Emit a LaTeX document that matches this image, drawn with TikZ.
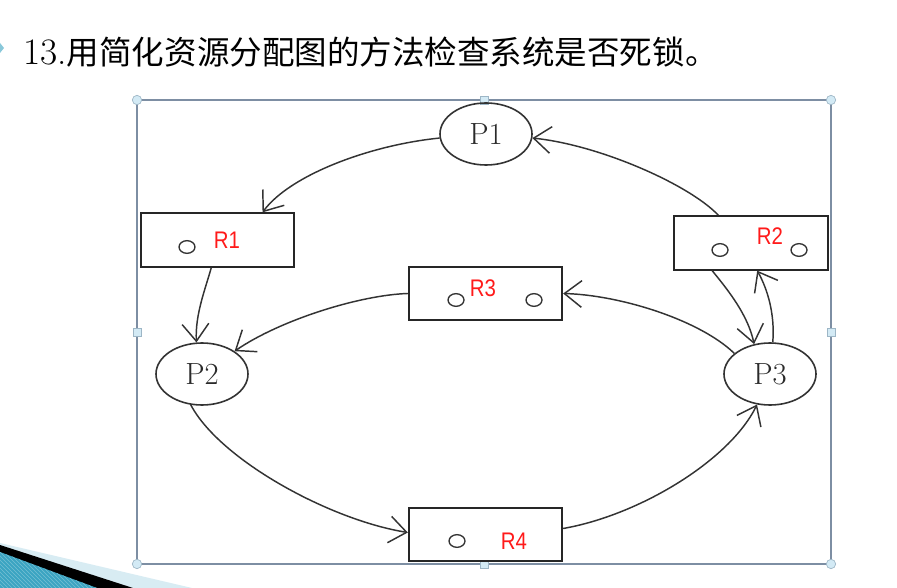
\documentclass[tikz,border=0pt]{standalone}
\usepackage{fontspec}
\newfontfamily\cjk{Noto Sans CJK SC}
\newfontfamily\labelfont{Liberation Sans}
\usetikzlibrary{shapes.geometric,arrows.meta,calc,patterns}

\definecolor{linecol}{HTML}{333333}
\definecolor{boxcol}{HTML}{262626}
\definecolor{textcol}{HTML}{2A2A2A}
\definecolor{framecol}{HTML}{7D8EA3}
\definecolor{handlefill}{HTML}{D3EAF5}
\definecolor{handledraw}{HTML}{9DB6C6}
\definecolor{bandlight}{HTML}{D8ECF3}
\definecolor{bandteal}{HTML}{3BA4C2}
\definecolor{labelred}{HTML}{FF1A1A}

\tikzset{
  proc/.style={ellipse, draw=linecol, line width=1.2pt, minimum width=69pt,
    minimum height=46.5pt, inner sep=0pt, text=textcol,
    font=\fontsize{23}{23}\selectfont},
  res/.style={rectangle, draw=boxcol, line width=1.5pt, minimum width=115pt,
    minimum height=40pt, inner sep=0pt},
  unit/.style={ellipse, draw=linecol, line width=1pt, minimum width=12pt,
    minimum height=9.5pt, inner sep=0pt},
  rlabel/.style={text=labelred, inner sep=0pt, xscale=0.85,
    font=\labelfont\fontsize{18}{18}\selectfont},
  flow/.style={draw=linecol, line width=1.1pt,
    -{Straight Barb[length=13pt,width=20pt,line width=1.1pt]}},
  cornerhandle/.style={circle, fill=handlefill, draw=handledraw, line width=0.5pt,
    minimum size=7pt, inner sep=0pt},
  sidehandle/.style={rectangle, fill=handlefill, draw=handledraw, line width=0.5pt,
    minimum size=6pt, inner sep=0pt},
}

\begin{document}
\begin{tikzpicture}[x=0.75pt,y=-0.75pt]
\useasboundingbox (0,0) rectangle (897,588);
\fill[white] (0,0) rectangle (897,588);

% slide decoration, lower left
\fill[bandlight] (0,543) -- (192,588) -- (0,588) -- cycle;
\fill[black] (0,545) -- (133,588) -- (0,588) -- cycle;
\fill[bandteal] (0,552) -- (97,588) -- (0,588) -- cycle;
\fill[pattern=north west lines, pattern color=bandteal!70!white] (0,552) -- (97,588) -- (0,588) -- cycle;

% bullet
\fill[bandteal!60!white] (0,43) -- (4,48) -- (0,53) -- cycle;

% title
\node[anchor=west, inner sep=0pt, font=\fontsize{24.4}{26}\selectfont] (title) at (23,52)
  {{\fontsize{28}{28}\selectfont 13.}{\cjk 用简化资源分配图的方法检查系统是否死锁。}};

% picture frame with selection handles
\draw[framecol, line width=1.1pt] (137,100) rectangle (831,564);
\foreach \px/\py [count=\i] in {137/100, 831/100, 137/564, 831/564}
  \node[cornerhandle] (corner\i) at (\px,\py) {};
\foreach \px/\py [count=\i] in {484/100, 484/564, 137/332, 831/332}
  \node[sidehandle] (side\i) at (\px,\py) {};

% processes
\node[proc] (P1) at (486,134) {P1};
\node[proc] (P2) at (202,374) {P2};
\node[proc] (P3) at (770,374) {P3};

% resources
\node[res] (R1) at (217.5,240) {};
\node[res] (R2) at (751,243) {};
\node[res] (R3) at (485.5,293.5) {};
\node[res] (R4) at (485.5,534.5) {};

% resource units
\node[unit] (R1u) at (187,247) {};
\node[unit] (R2a) at (720,250) {};
\node[unit] (R2b) at (799,250) {};
\node[unit] (R3a) at (456,300) {};
\node[unit] (R3b) at (534,300) {};
\node[unit] (R4a) at (457,541) {};

% resource names
\node[rlabel] (R1l) at (227,240) {R1};
\node[rlabel] (R2l) at (770,236) {R2};
\node[rlabel] (R3l) at (483,288) {R3};
\node[rlabel] (R4l) at (514,541) {R4};

% request and assignment edges
\coordinate (R1top) at ($(R1.north west)!0.79!(R1.north east)$);
\coordinate (R1bot) at ($(R1.south west)!0.46!(R1.south east)$);
\coordinate (R2top) at ($(R2.north west)!0.29!(R2.north east)$);
\coordinate (R2botA) at ($(R2.south west)!0.25!(R2.south east)$);
\coordinate (R2botB) at ($(R2.south west)!0.54!(R2.south east)$);
\coordinate (R4in) at ($(R4.west)+(0,-2)$);
\coordinate (R4out) at ($(R4.east)+(0,-6)$);

\draw[flow] (P1.185) .. controls (370,145) and (290,175) .. (R1top);
\draw[flow] (R2top) .. controls (690,185) and (600,145) .. (P1.355);
\draw[flow] (R1bot) .. controls (205,290) and (195,315) .. (P2.100);
\draw[flow] (R3.west) .. controls (360,295) and (280,320) .. (P2.35);
\draw[flow] (P3.150) .. controls (700,320) and (620,295) .. (R3.east);
\draw[flow] (R2botA) .. controls (728,290) and (748,315) .. (P3.118);
\draw[flow] (P3.85) .. controls (775,315) and (768,290) .. (R2botB);
\draw[flow] (P2.250) .. controls (220,460) and (330,520) .. (R4in);
\draw[flow] (R4out) .. controls (640,515) and (730,460) .. (P3.247);
\end{tikzpicture}
\end{document}
